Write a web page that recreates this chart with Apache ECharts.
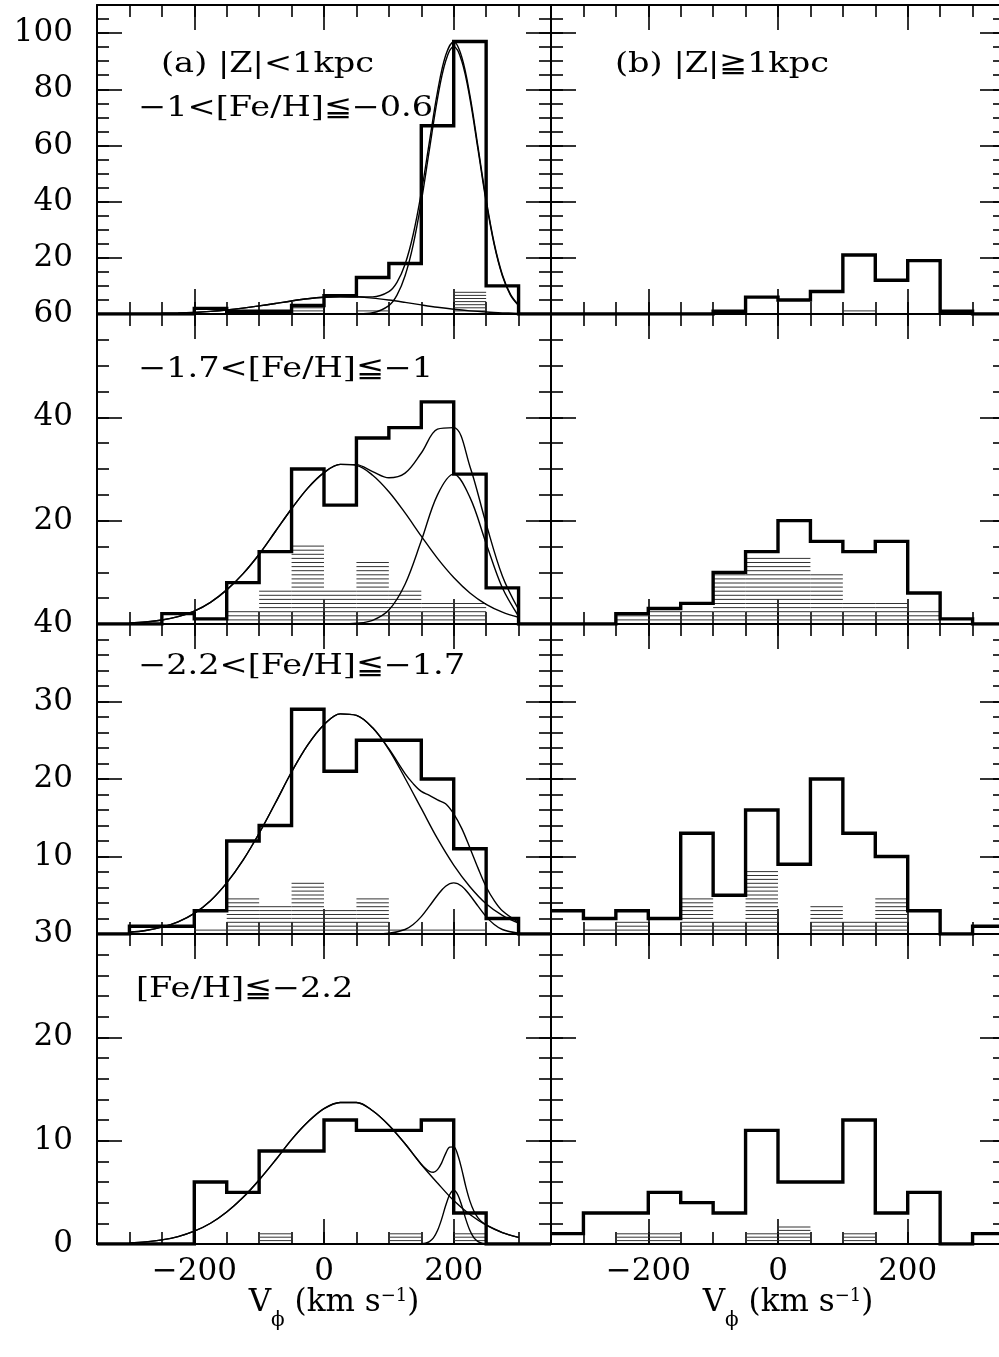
<!DOCTYPE html>
<html>
<head>
<meta charset="utf-8">
<script src="https://cdn.jsdelivr.net/npm/echarts@6/dist/echarts.min.js"></script>
<style>
html,body{margin:0;padding:0;background:#fff;}
#chart{width:999px;height:1357px;}
</style>
</head>
<body>
<div id="chart"></div>
<script>
// ---------------- DATA ----------------
const binStarts = [-350,-300,-250,-200,-150,-100,-50,0,50,100,150,200,250,300];
const binWidth = 50;
const xMajorTicks = [-200, 0, 200];
const xTickLabels = [-200, 0, 200];
const rowYMax = [110, 60, 40, 30];
const rowYMajor = [20, 20, 10, 10];
const rowYMinor = [5, 5, 2, 2];
const rowYLabels = [[20,40,60,80,100],[20,40,60],[10,20,30,40],[0,10,20,30]];

// histograms (counts per 50 km/s bin, starting at binStarts)
const a1Hist = [0,0,0,2,1,1,3,6.5,13,18,67,97,10,0];
const b1Hist = [0,0,0,0,0,1,6,5,8,21,12,19,1,0];
const a2Hist = [0,0,2,1,8,14,30,23,36,38,43,29,7,0];
const b2Hist = [0,0,2,3,4,10,14,20,16,14,16,6,1,0];
const a3Hist = [0,1,1,3,12,14,29,21,25,25,20,11,2,0];
const b3Hist = [3,2,3,2,13,5,16,9,20,13,10,3,0,1];
const a4Hist = [0,0,0,6,5,9,9,12,11,11,12,3,0,0];
const b4Hist = [1,3,3,5,4,3,11,6,6,12,3,5,0,1];

// hatched sub-sample histograms
const a1Hatch = [0,0,0,0,0,0,2,0,1,0,0,8,0,0];
const b1Hatch = [0,0,0,0,0,0,0,0,0,1,0,0,0,0];
const a2Hatch = [0,0,0,0,2.5,7,15,7,12,7,4.5,4.5,0,0];
const b2Hatch = [0,0,1.5,2.3,2.3,9.8,13.3,13.3,10,4,4,2.3,0,0];
const a3Hatch = [0,0,0,0.5,4.5,3.9,6.9,3,4.5,0.5,0.5,0.5,0,0];
const b3Hatch = [0,0.5,1.5,0,4.5,1.5,8.4,0,3.9,1.5,4.5,0,0,0];
const a4Hatch = [0,0,0,0,0,1,0,0,0,1,0,1,0,0];
const b4Hatch = [0,0,1,1,0,0,1,1.8,0,1,0,0,0,0];

// fitted curves: [V_phi, N]
const a1Broad = [[-300,0.04],[-275,0.09],[-250,0.18],[-225,0.32],[-200,0.56],[-175,0.92],[-150,1.43],[-125,2.09],[-100,2.88],[-75,3.76],[-50,4.64],[-25,5.41],[0,5.95],[25,6.19],[50,6.09],[75,5.66],[100,4.96],[125,4.12],[150,3.23],[175,2.39],[200,1.67],[225,1.10],[250,0.69],[275,0.41],[300,0.23]];
const a1Narrow = [[-300,0],[-200,0],[-100,0],[0,0],[25,0],[50,0.04],[75,0.43],[100,3.0],[112.5,6.7],[125,13.6],[137.5,24.6],[150,40.0],[162.5,58.5],[175,76.7],[187.5,90.0],[200,95.2],[212.5,90.0],[225,76.7],[237.5,58.5],[250,40.0],[262.5,24.6],[275,13.6],[287.5,6.7],[300,3.0]];
const a1Sum = [[-300,0.04],[-275,0.09],[-250,0.18],[-225,0.32],[-200,0.56],[-175,0.92],[-150,1.43],[-125,2.09],[-100,2.88],[-75,3.76],[-50,4.64],[-25,5.41],[0,5.95],[25,6.19],[50,6.13],[75,6.09],[100,7.96],[112.5,11.25],[125,17.7],[137.5,28.3],[150,43.2],[162.5,61.3],[175,79.1],[187.5,92.0],[200,96.9],[212.5,91.4],[225,77.8],[237.5,59.4],[250,40.7],[262.5,25.1],[275,14.0],[287.5,7.0],[300,3.2]];

const a2Broad = [[-300,0.19],[-275,0.40],[-250,0.78],[-225,1.44],[-200,2.5],[-175,4.2],[-150,6.6],[-125,9.7],[-100,13.5],[-75,17.9],[-50,22.3],[-25,26.3],[0,29.3],[25,30.9],[50,30.7],[75,28.8],[100,25.6],[125,21.5],[150,17.0],[175,12.7],[200,9.0],[225,6.0],[250,3.8],[275,2.3],[300,1.3]];
const a2Narrow = [[-300,0],[-200,0],[-100,0],[0,0],[25,0],[50,0.14],[75,0.72],[100,2.7],[125,7.7],[150,16.1],[175,25.0],[200,29.0],[225,24.5],[250,15.6],[275,7.0],[300,1.5]];
const a2Sum = [[-300,0.19],[-275,0.40],[-250,0.78],[-225,1.44],[-200,2.5],[-175,4.2],[-150,6.6],[-125,9.7],[-100,13.5],[-75,17.9],[-50,22.3],[-25,26.3],[0,29.3],[25,30.9],[50,30.84],[75,29.5],[100,28.3],[125,29.2],[150,33.1],[175,37.7],[200,38.0],[225,30.5],[250,19.4],[275,9.3],[300,2.8]];

const a3Broad = [[-300,0.23],[-275,0.46],[-250,0.88],[-225,1.57],[-200,2.67],[-175,4.3],[-150,6.6],[-125,9.5],[-100,13.0],[-75,16.9],[-50,20.9],[-25,24.4],[0,27.0],[25,28.4],[50,28.2],[75,26.6],[100,23.8],[125,20.1],[150,16.2],[175,12.3],[200,8.9],[225,6.1],[250,3.9],[275,2.4],[300,1.4]];
const a3Narrow = [[-300,0],[-200,0],[-100,0],[0,0],[50,0],[75,0.01],[100,0.09],[125,0.58],[137.5,1.22],[150,2.24],[162.5,3.59],[175,5.0],[187.5,6.17],[200,6.6],[212.5,6.17],[225,5.0],[237.5,3.59],[250,2.24],[262.5,1.22],[275,0.58],[300,0.09]];
const a3Sum = [[-300,0.23],[-275,0.46],[-250,0.88],[-225,1.57],[-200,2.67],[-175,4.3],[-150,6.6],[-125,9.5],[-100,13.0],[-75,16.9],[-50,20.9],[-25,24.4],[0,27.0],[25,28.4],[50,28.2],[75,26.6],[100,23.9],[125,20.7],[137.5,19.4],[150,18.4],[162.5,17.9],[175,17.3],[187.5,16.8],[200,15.5],[212.5,13.6],[225,11.1],[237.5,8.5],[250,6.1],[262.5,4.3],[275,3.0],[300,1.5]];

const a4Broad = [[-300,0.10],[-275,0.21],[-250,0.40],[-225,0.72],[-200,1.24],[-175,2.01],[-150,3.1],[-125,4.5],[-100,6.2],[-75,8.1],[-50,10.1],[-25,11.8],[0,13.1],[25,13.7],[50,13.7],[75,12.9],[100,11.5],[125,9.7],[150,7.7],[175,5.9],[200,4.2],[225,2.85],[250,1.83],[275,1.11],[300,0.64]];
const a4Narrow = [[-300,0],[-200,0],[-100,0],[0,0],[100,0],[137.5,0],[150,0.02],[156.25,0.07],[162.5,0.23],[168.75,0.59],[175,1.3],[181.25,2.38],[187.5,3.7],[193.75,4.77],[200,5.2],[206.25,4.77],[212.5,3.7],[218.75,2.38],[225,1.3],[231.25,0.59],[237.5,0.23],[243.75,0.07],[250,0.02],[262.5,0],[300,0]];
const a4Sum = [[-300,0.10],[-275,0.21],[-250,0.40],[-225,0.72],[-200,1.24],[-175,2.01],[-150,3.1],[-125,4.5],[-100,6.2],[-75,8.1],[-50,10.1],[-25,11.8],[0,13.1],[25,13.7],[50,13.7],[75,12.9],[100,11.5],[125,9.7],[137.5,8.7],[150,7.72],[156.25,7.32],[162.5,7.03],[168.75,6.94],[175,7.2],[181.25,7.83],[187.5,8.75],[193.75,9.37],[200,9.4],[206.25,8.62],[212.5,7.2],[218.75,5.53],[225,4.15],[231.25,3.17],[237.5,2.53],[243.75,2.12],[250,1.85],[275,1.11],[300,0.64]];

// panel annotations
const panelTexts = [
  {panel: 0, lines: ['(a) |Z|<1kpc', '\u22121<[Fe/H]\u2266\u22120.6']},
  {panel: 1, lines: ['(b) |Z|\u22671kpc']},
  {panel: 2, lines: ['\u22121.7<[Fe/H]\u2266\u22121']},
  {panel: 4, lines: ['\u22122.2<[Fe/H]\u2266\u22121.7']},
  {panel: 6, lines: ['[Fe/H]\u2266\u22122.2']}
];

// ---------------- LAYOUT / STYLE ----------------
const FONT = '"DejaVu Serif", "Liberation Serif", serif';
const colLeft = [97, 551];
const colWidth = 454;
const rowTop = [5, 314, 624, 934];
const rowHeight = [309, 310, 310, 310];
const hatchGap = [3.1, 4.1, 3.9, 3.4];
const textPos = {
  0: [[161, 65], [138, 109]],
  1: [[615, 65]],
  2: [[138, 370]],
  4: [[138, 667]],
  6: [[136, 990]]
};

const panels = [
  {row:0, col:0, hist:a1Hist, hatch:a1Hatch, curves:[a1Broad, a1Narrow, a1Sum]},
  {row:0, col:1, hist:b1Hist, hatch:b1Hatch, curves:[]},
  {row:1, col:0, hist:a2Hist, hatch:a2Hatch, curves:[a2Broad, a2Narrow, a2Sum]},
  {row:1, col:1, hist:b2Hist, hatch:b2Hatch, curves:[]},
  {row:2, col:0, hist:a3Hist, hatch:a3Hatch, curves:[a3Broad, a3Narrow, a3Sum]},
  {row:2, col:1, hist:b3Hist, hatch:b3Hatch, curves:[]},
  {row:3, col:0, hist:a4Hist, hatch:a4Hatch, curves:[a4Broad, a4Narrow, a4Sum]},
  {row:3, col:1, hist:b4Hist, hatch:b4Hatch, curves:[]}
];

const axisLineStyle = {color:'#000', width:2};
const tickLineStyle = {color:'#000', width:1.6};
const fmt = v => (v < 0 ? '\u2212' + Math.abs(v) : String(v));

const grids = [], xAxes = [], yAxes = [], series = [];

panels.forEach((p, g) => {
  const r = p.row, c = p.col;
  grids.push({left: colLeft[c], top: rowTop[r], width: colWidth, height: rowHeight[r],
              containLabel:false, outerBoundsMode:'none'});
  const bottomRow = (r === 3);
  ['bottom','top'].forEach(pos => {
    const major = {
      type:'value', gridIndex:g, min:-350, max:350, position:pos,
      axisLine:{show:true, onZero:false, lineStyle:axisLineStyle},
      axisTick:{show:true, inside:true, length:25, customValues:xMajorTicks, lineStyle:tickLineStyle},
      axisLabel:{show: bottomRow && pos === 'bottom', customValues:xTickLabels, formatter:fmt,
                 margin:12, fontFamily:FONT, fontSize:31, color:'#000'},
      splitLine:{show:false}
    };
    if (bottomRow && pos === 'bottom') {
      major.name = '{v|V}{s|\u03D5}{t| (km s}{p|\u22121}{t|)}';
      major.nameLocation = 'middle';
      major.nameGap = 31;
      major.nameMoveOverlap = false;
      major.nameTextStyle = {
        padding:[0,0,0,20],
        rich:{
          v:{fontFamily:FONT, fontSize:31, lineHeight:56, verticalAlign:'middle', color:'#000'},
          t:{fontFamily:FONT, fontSize:31, lineHeight:56, verticalAlign:'middle', color:'#000'},
          s:{fontFamily:FONT, fontSize:20, lineHeight:20, verticalAlign:'bottom', color:'#000'},
          p:{fontFamily:FONT, fontSize:18, lineHeight:18, verticalAlign:'middle', padding:[0,0,14,0], color:'#000'}
        }
      };
    }
    xAxes.push(major);
    xAxes.push({
      type:'value', gridIndex:g, min:-350, max:350, interval:binWidth, position:pos,
      axisLine:{show:false, onZero:false},
      axisTick:{show:true, inside:true, length:12, lineStyle:tickLineStyle},
      axisLabel:{show:false}, splitLine:{show:false}
    });
  });
  ['left','right'].forEach(pos => {
    yAxes.push({
      type:'value', gridIndex:g, min:0, max:rowYMax[r], interval:rowYMajor[r], position:pos,
      axisLine:{show:true, onZero:false, lineStyle:axisLineStyle},
      axisTick:{show:true, inside:true, length:25, lineStyle:tickLineStyle},
      axisLabel:{show: c === 0 && pos === 'left', customValues:rowYLabels[r], formatter:fmt,
                 margin:24, fontFamily:FONT, fontSize:31, color:'#000'},
      splitLine:{show:false}
    });
    yAxes.push({
      type:'value', gridIndex:g, min:0, max:rowYMax[r], interval:rowYMinor[r], position:pos,
      axisLine:{show:false, onZero:false},
      axisTick:{show:true, inside:true, length:12, lineStyle:tickLineStyle},
      axisLabel:{show:false}, splitLine:{show:false}
    });
  });

  const xi = 4 * g, yi = 4 * g;
  const gap = hatchGap[r];
  series.push({
    type:'custom', xAxisIndex:xi, yAxisIndex:yi, z:2, clip:true,
    data: binStarts.map((x, i) => [x, x + binWidth, p.hatch[i]]).filter(d => d[2] > 0),
    encode:{x:[0,1], y:2},
    renderItem: (params, api) => {
      const p0 = api.coord([api.value(0), 0]);
      const p1 = api.coord([api.value(1), api.value(2)]);
      const children = [];
      for (let y = p0[1] - gap; y >= p1[1] - 0.6; y -= gap) {
        children.push({type:'line', shape:{x1:p0[0], y1:y, x2:p1[0], y2:y},
                       style:{stroke:'#333', lineWidth:1}});
      }
      return {type:'group', children};
    }
  });
  p.curves.forEach(cv => {
    series.push({
      type:'line', xAxisIndex:xi, yAxisIndex:yi, data:cv, smooth:0.35, symbol:'none',
      lineStyle:{color:'#000', width:1.4}, z:4, clip:true, animation:false
    });
  });
  const histPts = binStarts.map((x, i) => [x, p.hist[i]]);
  histPts.push([binStarts[binStarts.length - 1] + binWidth, p.hist[p.hist.length - 1]]);
  series.push({
    type:'line', xAxisIndex:xi, yAxisIndex:yi, data:histPts, step:'end', symbol:'none',
    lineStyle:{color:'#000', width:3.4, join:'miter'}, z:5, clip:true, animation:false
  });
});

const graphics = [];
panelTexts.forEach(t => {
  t.lines.forEach((line, k) => {
    const pos = textPos[t.panel][k];
    graphics.push({
      type:'text', x:pos[0], y:pos[1], z:10, scaleX:1.2, scaleY:1,
      style:{text:line, font:'28px ' + FONT, fill:'#000',
             textAlign:'left', textVerticalAlign:'middle', align:'left', verticalAlign:'middle'}
    });
  });
});

const chart = echarts.init(document.getElementById('chart'), null, {renderer:'canvas'});
chart.setOption({
  backgroundColor:'#fff',
  animation:false,
  grid:grids,
  xAxis:xAxes,
  yAxis:yAxes,
  series:series,
  graphic:graphics
});
</script>
</body>
</html>
